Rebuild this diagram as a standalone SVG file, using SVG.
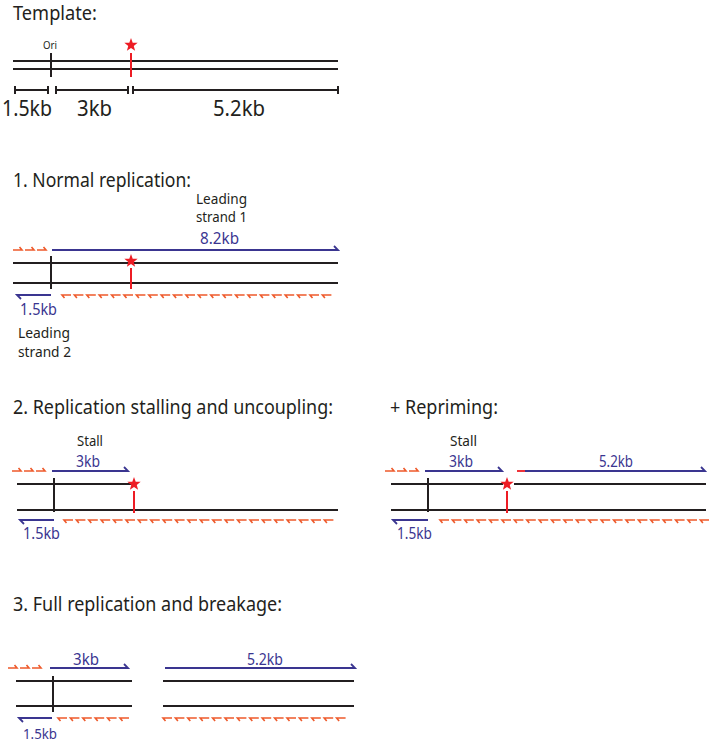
<svg xmlns="http://www.w3.org/2000/svg" xmlns:xlink="http://www.w3.org/1999/xlink" width="709" height="743" viewBox="0 0 709 743">
<style>
text{font-family:"Noto Sans","Open Sans",sans-serif;fill:#231f20}
.t{font-size:20px}
.s{font-size:14px}
.b{fill:#3a3590}
.dna{stroke:#231f20;stroke-width:2;fill:none}
.red{stroke:#ed1c24;stroke-width:2;fill:none}
.blue{stroke:#3a3590;stroke-width:1.8;fill:none}
.star{fill:#ed1c24}
</style>
<defs>
<path id="star" d="M0,-7 L1.7,-2.35 L6.66,-2.16 L2.76,0.9 L4.11,5.66 L0,2.9 L-4.11,5.66 L-2.76,0.9 L-6.66,-2.16 L-1.7,-2.35 Z"/>
<path id="pu" d="M0,0 H9 L6.5,-3" fill="none" stroke="#ee5a2b" stroke-width="1.6"/>
<path id="pl" d="M9,0 H0 L2.5,3" fill="none" stroke="#ee5a2b" stroke-width="1.6"/>
<g id="l22">
<use href="#pl" x="0"/><use href="#pl" x="12.4"/><use href="#pl" x="24.8"/><use href="#pl" x="37.2"/><use href="#pl" x="49.6"/><use href="#pl" x="62"/><use href="#pl" x="74.4"/><use href="#pl" x="86.8"/><use href="#pl" x="99.2"/><use href="#pl" x="111.6"/><use href="#pl" x="124"/><use href="#pl" x="136.4"/><use href="#pl" x="148.8"/><use href="#pl" x="161.2"/><use href="#pl" x="173.6"/><use href="#pl" x="186"/><use href="#pl" x="198.4"/><use href="#pl" x="210.8"/><use href="#pl" x="223.2"/><use href="#pl" x="235.6"/><use href="#pl" x="248"/><use href="#pl" x="260.4"/>
</g>
<g id="u3"><use href="#pu" x="0"/><use href="#pu" x="12"/><use href="#pu" x="24"/></g>
</defs>
<rect width="709" height="743" fill="#fff"/>

<g id="template">
<text x="13" y="20" font-size="19" textLength="84" lengthAdjust="spacingAndGlyphs">Template:</text>
<text x="43" y="49" font-size="11" textLength="14" lengthAdjust="spacingAndGlyphs">Ori</text>
<use href="#star" class="star" x="131" y="45"/>
<path class="dna" d="M13,61 H338 M13,69 H338 M51,53 V77"/>
<path class="red" d="M131,53 V77"/>
<path class="dna" d="M15,90 H48 M15,86 V94 M48,86 V94 M56,90 H128 M56,86 V94 M128,86 V94 M133,90 H338 M133,86 V94 M338,86 V94"/>
<text x="2" y="116" font-size="21" textLength="50" lengthAdjust="spacingAndGlyphs">1.5kb</text>
<text x="77" y="116" font-size="21" textLength="35" lengthAdjust="spacingAndGlyphs">3kb</text>
<text x="213" y="116" font-size="21" textLength="52" lengthAdjust="spacingAndGlyphs">5.2kb</text>
</g>

<g id="normal">
<text class="t" x="13" y="187" textLength="178" lengthAdjust="spacingAndGlyphs">1. Normal replication:</text>
<text class="s" x="196" y="204" textLength="51" lengthAdjust="spacingAndGlyphs">Leading</text>
<text class="s" x="196" y="222" textLength="51" lengthAdjust="spacingAndGlyphs">strand 1</text>
<text class="b" x="200" y="244" font-size="17" textLength="39" lengthAdjust="spacingAndGlyphs">8.2kb</text>
<use href="#u3" x="13" y="250"/>
<path class="blue" d="M52,250 H338 L334,246"/>
<path class="dna" d="M13,263 H338 M13,283 H338 M51,256 V289"/>
<use href="#star" class="star" x="131" y="261"/>
<path class="red" d="M131,268 V289"/>
<path class="blue" d="M51,295 H17 L21,299"/>
<use href="#l22" x="62" y="295"/>
<text class="b" x="20" y="315" font-size="16" textLength="37" lengthAdjust="spacingAndGlyphs">1.5kb</text>
<text class="s" x="18" y="338" textLength="52" lengthAdjust="spacingAndGlyphs">Leading</text>
<text class="s" x="18" y="357" textLength="53" lengthAdjust="spacingAndGlyphs">strand 2</text>
</g>

<g id="stalling">
<text class="t" x="13" y="414" textLength="320" lengthAdjust="spacingAndGlyphs">2. Replication stalling and uncoupling:</text>
<text class="s" x="77" y="446" textLength="26" lengthAdjust="spacingAndGlyphs">Stall</text>
<text class="b" x="76" y="467" font-size="16" textLength="24" lengthAdjust="spacingAndGlyphs">3kb</text>
<use href="#u3" x="12" y="471"/>
<path class="blue" d="M52,471 H128 L124,467"/>
<path class="dna" d="M17,484 H134 M17,510 H338 M54,478 V512"/>
<use href="#star" class="star" x="134" y="484"/>
<path class="red" d="M134,491 V513"/>
<path class="blue" d="M54,520 H20 L24,524"/>
<use href="#l22" x="64" y="520"/>
<text class="b" x="23" y="539" font-size="16" textLength="37" lengthAdjust="spacingAndGlyphs">1.5kb</text>
</g>

<g id="repriming">
<text class="t" x="390" y="414" textLength="108" lengthAdjust="spacingAndGlyphs">+ Repriming:</text>
<text class="s" x="450" y="446" textLength="27" lengthAdjust="spacingAndGlyphs">Stall</text>
<text class="b" x="449" y="467" font-size="16" textLength="24" lengthAdjust="spacingAndGlyphs">3kb</text>
<text class="b" x="599" y="467" font-size="16" textLength="34" lengthAdjust="spacingAndGlyphs">5.2kb</text>
<use href="#u3" x="385" y="471"/>
<path class="blue" d="M425,471 H502 L498,467"/>
<path d="M517,471 H525" stroke="#ed1c24" stroke-width="1.8"/>
<path class="blue" d="M525,471 H705 L701,467"/>
<path class="dna" d="M391,484 H503 M514,484 H706 M391,510 H706 M428,478 V512"/>
<use href="#star" class="star" x="507" y="484"/>
<path class="red" d="M507,491 V513"/>
<path class="blue" d="M428,520 H393 L397,524"/>
<use href="#l22" x="440" y="520"/>
<text class="b" x="397" y="539" font-size="16" textLength="35" lengthAdjust="spacingAndGlyphs">1.5kb</text>
</g>

<g id="breakage">
<text class="t" x="13" y="611" textLength="269" lengthAdjust="spacingAndGlyphs">3. Full replication and breakage:</text>
<text class="b" x="73" y="665" font-size="16" textLength="26" lengthAdjust="spacingAndGlyphs">3kb</text>
<text class="b" x="247" y="665" font-size="16" textLength="36" lengthAdjust="spacingAndGlyphs">5.2kb</text>
<use href="#u3" x="8" y="668"/>
<path class="blue" d="M50,668 H128 L124,664"/>
<path class="blue" d="M165,668 H355 L351,664"/>
<path class="dna" d="M16,681 H132 M16,706 H132 M163,681 H354 M163,706 H354 M53,676 V712"/>
<path class="blue" d="M52,718 H19 L23,722"/>
<g>
<use href="#pl" x="58" y="718"/><use href="#pl" x="70.4" y="718"/><use href="#pl" x="82.8" y="718"/><use href="#pl" x="95.2" y="718"/><use href="#pl" x="107.6" y="718"/><use href="#pl" x="120" y="718"/>
</g>
<g>
<use href="#pl" x="163" y="718"/><use href="#pl" x="175.4" y="718"/><use href="#pl" x="187.8" y="718"/><use href="#pl" x="200.2" y="718"/><use href="#pl" x="212.6" y="718"/><use href="#pl" x="225" y="718"/><use href="#pl" x="237.4" y="718"/><use href="#pl" x="249.8" y="718"/><use href="#pl" x="262.2" y="718"/><use href="#pl" x="274.6" y="718"/><use href="#pl" x="287" y="718"/><use href="#pl" x="299.4" y="718"/><use href="#pl" x="311.8" y="718"/><use href="#pl" x="324.2" y="718"/><use href="#pl" x="336.6" y="718"/>
</g>
<text class="b" x="23" y="739" font-size="15" textLength="34" lengthAdjust="spacingAndGlyphs">1.5kb</text>
</g>
</svg>
